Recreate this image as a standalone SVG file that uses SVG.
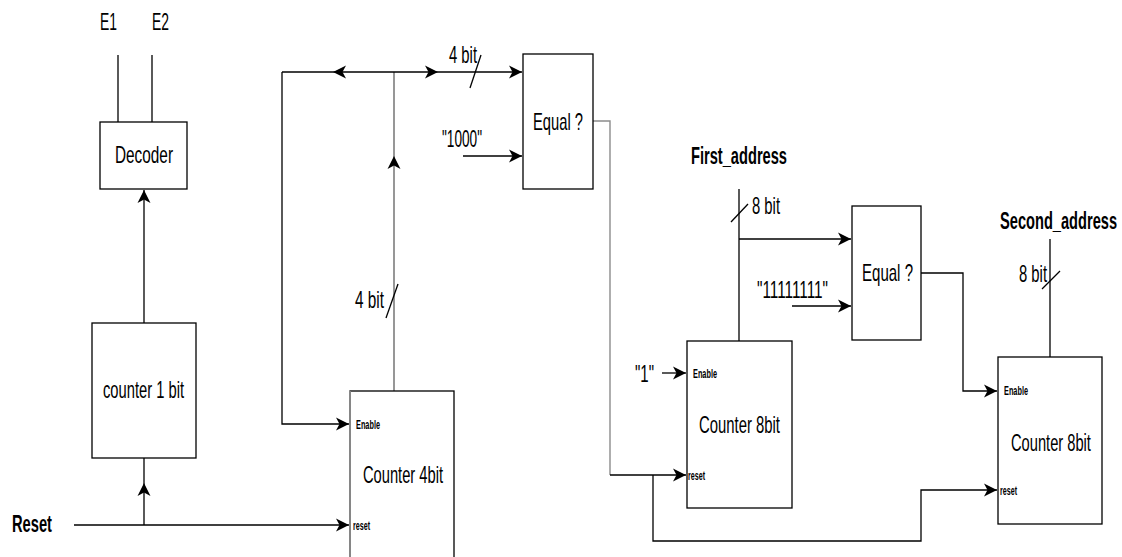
<svg xmlns="http://www.w3.org/2000/svg" width="1122" height="557" viewBox="0 0 1122 557">
<style>
.box{fill:#fff;stroke:#000;stroke-width:1.3}
.w{fill:none;stroke:#000;stroke-width:1.3}
.g{fill:none;stroke:#8c8c8c;stroke-width:1.8}
.t{font-family:"Liberation Sans",Arial,sans-serif;font-size:24px;fill:#000}
.b{font-family:"Liberation Sans",Arial,sans-serif;font-size:23px;font-weight:bold;fill:#000}
.s{font-family:"Liberation Sans",Arial,sans-serif;font-size:12.5px;font-weight:bold;fill:#000}
</style>
<defs>
<marker id="ah" markerUnits="userSpaceOnUse" markerWidth="14" markerHeight="14" refX="13" refY="6.5" orient="auto" viewBox="0 0 14 13">
<path d="M0,0 L13,6.5 L0,13 L3.5,6.5 z" fill="#000"/>
</marker>
</defs>
<g id="connectors">
<line class="w" x1="118" y1="55" x2="118" y2="122"/>
<line class="w" x1="152" y1="55" x2="152" y2="122"/>
<line class="w" x1="144" y1="323" x2="144" y2="190" marker-end="url(#ah)"/>
<line class="w" x1="74" y1="525" x2="349" y2="525" marker-end="url(#ah)"/>
<line class="w" x1="144" y1="525" x2="144" y2="483" marker-end="url(#ah)"/>
<line class="w" x1="144" y1="483" x2="144" y2="458"/>
<line class="g" x1="394" y1="391" x2="394" y2="156" marker-end="url(#ah)"/>
<line class="g" x1="394" y1="156" x2="394" y2="72"/>
<line class="w" x1="394" y1="72" x2="333" y2="72" marker-end="url(#ah)"/>
<line class="w" x1="333" y1="72" x2="282" y2="72"/>
<line class="w" x1="394" y1="72" x2="438" y2="72" marker-end="url(#ah)"/>
<line class="w" x1="438" y1="72" x2="522" y2="72" marker-end="url(#ah)"/>
<polyline class="w" points="282,72 282,424 349,424" marker-end="url(#ah)"/>
<line class="w" x1="481" y1="55" x2="470" y2="88"/>
<line class="w" x1="398" y1="284" x2="386" y2="318"/>
<line class="w" x1="463" y1="156" x2="522" y2="156" marker-end="url(#ah)"/>
<polyline class="g" points="593,121 610,121 610,475" style="stroke-width:1.4"/>
<line class="w" x1="610" y1="475" x2="686" y2="475" marker-end="url(#ah)"/>
<polyline class="w" points="653,475 653,541 921,541 921,490 997,490" marker-end="url(#ah)"/>
<line class="w" x1="662" y1="373" x2="686" y2="373" marker-end="url(#ah)"/>
<line class="w" x1="739" y1="189" x2="739" y2="341"/>
<line class="w" x1="739" y1="239" x2="851" y2="239" marker-end="url(#ah)"/>
<line class="w" x1="731" y1="222" x2="748" y2="204"/>
<line class="w" x1="792" y1="306" x2="851" y2="306" marker-end="url(#ah)"/>
<polyline class="w" points="921,273 963,273 963,391 997,391" marker-end="url(#ah)"/>
<line class="w" x1="1050" y1="239" x2="1050" y2="357"/>
<line class="w" x1="1042" y1="289" x2="1060" y2="271"/>
</g>
<g id="decoder">
<rect class="box" x="100" y="122" width="87" height="67"/>
<text class="t" x="115" y="163" textLength="58" lengthAdjust="spacingAndGlyphs">Decoder</text>
</g>
<g id="counter1">
<rect class="box" x="92" y="323" width="104" height="135"/>
<text class="t" x="103" y="398" textLength="81" lengthAdjust="spacingAndGlyphs">counter 1 bit</text>
</g>
<g id="counter4">
<rect class="box" x="350" y="391" width="104" height="180"/>
<line class="g" x1="350" y1="391" x2="350" y2="557"/>
<text class="t" x="363" y="483" textLength="80" lengthAdjust="spacingAndGlyphs">Counter 4bit</text>
<text class="s" x="356" y="429" textLength="24" lengthAdjust="spacingAndGlyphs">Enable</text>
<text class="s" x="353" y="530" textLength="17" lengthAdjust="spacingAndGlyphs">reset</text>
</g>
<g id="equal1">
<rect class="box" x="523" y="54" width="70" height="135"/>
<text class="t" x="533" y="130" textLength="50" lengthAdjust="spacingAndGlyphs">Equal ?</text>
</g>
<g id="counter8a">
<rect class="box" x="687" y="341" width="105" height="167"/>
<text class="t" x="699" y="433" textLength="81" lengthAdjust="spacingAndGlyphs">Counter 8bit</text>
<text class="s" x="693" y="378" textLength="24" lengthAdjust="spacingAndGlyphs">Enable</text>
<text class="s" x="688" y="480" textLength="17" lengthAdjust="spacingAndGlyphs">reset</text>
</g>
<g id="equal2">
<rect class="box" x="852" y="206" width="69" height="134"/>
<text class="t" x="862" y="281" textLength="51" lengthAdjust="spacingAndGlyphs">Equal ?</text>
</g>
<g id="counter8b">
<rect class="box" x="998" y="357" width="104" height="167"/>
<text class="t" transform="translate(1011,451) scale(0.612,1)" x="0" y="0">Counter 8bit</text>
<text class="s" x="1004" y="395" textLength="24" lengthAdjust="spacingAndGlyphs">Enable</text>
<text class="s" x="1000" y="495" textLength="17" lengthAdjust="spacingAndGlyphs">reset</text>
</g>
<g id="labels">
<text class="t" x="100" y="30" textLength="17" lengthAdjust="spacingAndGlyphs">E1</text>
<text class="t" x="152" y="30" textLength="17" lengthAdjust="spacingAndGlyphs">E2</text>
<text class="b" x="12" y="532" textLength="40" lengthAdjust="spacingAndGlyphs">Reset</text>
<text class="t" x="449" y="63" textLength="28" lengthAdjust="spacingAndGlyphs">4 bit</text>
<text class="t" x="442" y="147" textLength="40" lengthAdjust="spacingAndGlyphs">"1000"</text>
<text class="t" x="355" y="308" textLength="29" lengthAdjust="spacingAndGlyphs">4 bit</text>
<text class="b" x="691" y="164" textLength="96" lengthAdjust="spacingAndGlyphs">First_address</text>
<text class="t" x="752" y="214" textLength="28" lengthAdjust="spacingAndGlyphs">8 bit</text>
<text class="t" x="757" y="298" textLength="71" lengthAdjust="spacingAndGlyphs">"11111111"</text>
<text class="t" x="635" y="382" textLength="19" lengthAdjust="spacingAndGlyphs">"1"</text>
<text class="b" transform="translate(1000,229) scale(0.636,1)" x="0" y="0">Second_address</text>
<text class="t" x="1019" y="282" textLength="28" lengthAdjust="spacingAndGlyphs">8 bit</text>
</g>
</svg>
